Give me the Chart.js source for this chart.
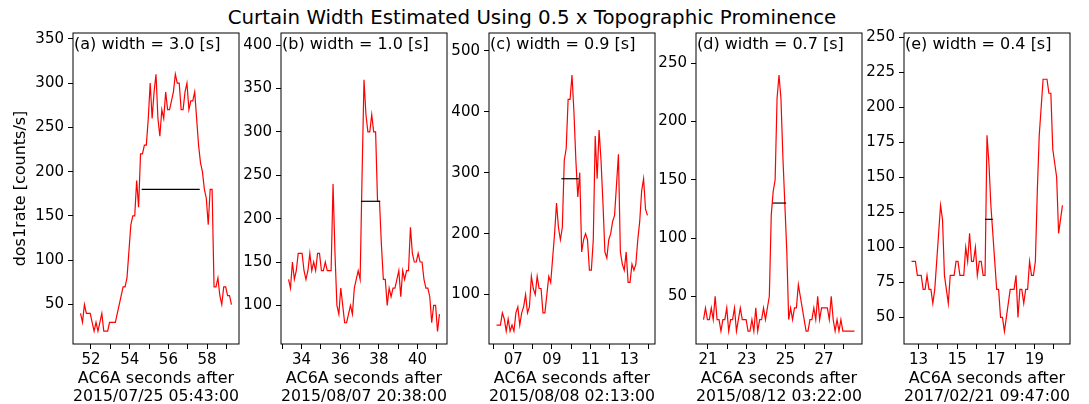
<!DOCTYPE html>
<html>
<head>
<meta charset="utf-8">
<script src="https://cdn.jsdelivr.net/npm/chart.js@4.4.1/dist/chart.umd.min.js"></script>
<style>
  html, body { margin: 0; padding: 0; background: #fff; }
  body { position: relative; width: 1089px; height: 404px; overflow: hidden; font-family: "DejaVu Sans", sans-serif; }
  #title { position: absolute; top: 8px; left: 532px; transform: translateX(-50%); font-size: 19.8px; line-height: 1; white-space: nowrap; color: #000; }
  canvas { position: absolute; }
</style>
</head>
<body>
<div id="title">Curtain Width Estimated Using 0.5 x Topographic Prominence</div>
<script>
// dos1rate traces, one sample every 0.1 s, starting at startTimes[k] seconds
const panelTags = ['(a)', '(b)', '(c)', '(d)', '(e)'];
const curtainWidths = [3.0, 1.0, 0.9, 0.7, 0.4];      // [s]
const widthLevels = [180, 220, 290, 130, 120];        // counts/s at half prominence
const widthCenters = [56.12, 37.57, 9.94, 24.69, 16.64];
const startTimes = [51.46, 33.33, 6.14, 20.77, 12.64];
const sampleStep = 0.1;
const yStep = [50, 50, 100, 50, 25];
const oddSecondLabels = [false, false, true, true, true];
const timeLabels = ['2015/07/25 05:43:00', '2015/08/07 20:38:00', '2015/08/08 02:13:00',
                    '2015/08/12 03:22:00', '2017/02/21 09:47:00'];

const rateA = [40, 30, 50, 40, 40, 40, 30, 20, 30, 20,
               30, 40, 20, 20, 20, 30, 30, 30, 30, 40,
               50, 60, 70, 70, 80, 110, 140, 150, 150, 190,
               160, 220, 220, 230, 230, 260, 300, 260, 290, 310,
               260, 240, 270, 260, 290, 270, 270, 280, 290, 310,
               300, 300, 270, 270, 290, 300, 270, 280, 280, 290,
               260, 230, 210, 200, 180, 170, 140, 180, 180, 70,
               70, 80, 60, 50, 70, 70, 60, 60, 50];
const rateB = [130, 120, 150, 130, 140, 160, 160, 160, 140, 130,
               140, 160, 140, 150, 140, 160, 160, 140, 140, 150,
               140, 140, 140, 240, 160, 100, 90, 120, 100, 80,
               80, 90, 100, 90, 120, 130, 140, 130, 250, 360,
               320, 300, 300, 320, 300, 300, 220, 220, 170, 130,
               130, 100, 120, 110, 120, 120, 130, 140, 110, 140,
               130, 140, 140, 190, 160, 150, 150, 160, 150, 150,
               130, 120, 120, 110, 80, 100, 100, 70, 90];
const rateC = [50, 50, 50, 70, 60, 40, 60, 40, 50, 40,
               70, 80, 50, 70, 80, 100, 70, 80, 130, 110,
               100, 130, 110, 110, 70, 70, 100, 130, 120, 160,
               200, 250, 210, 190, 210, 320, 340, 420, 420, 460,
               400, 320, 260, 300, 170, 190, 200, 190, 140, 140,
               190, 360, 290, 370, 320, 250, 170, 160, 190, 200,
               220, 230, 280, 330, 170, 150, 140, 170, 120, 120,
               150, 140, 150, 190, 220, 270, 290, 240, 230];
const rateD = [30, 40, 30, 30, 40, 30, 50, 30, 30, 20,
               30, 30, 40, 20, 30, 30, 40, 20, 30, 40,
               30, 30, 30, 20, 20, 30, 20, 40, 20, 30,
               30, 40, 30, 40, 50, 120, 140, 150, 220, 240,
               220, 170, 130, 90, 30, 40, 30, 40, 40, 60,
               50, 40, 30, 20, 20, 30, 30, 40, 30, 50,
               30, 40, 40, 40, 40, 30, 50, 30, 20, 30,
               20, 30, 20, 20, 20, 20, 20, 20, 20];
const rateE = [90, 90, 90, 80, 80, 80, 70, 70, 80, 70,
               70, 60, 70, 90, 110, 130, 120, 80, 70, 60,
               80, 80, 80, 90, 90, 80, 80, 80, 100, 90,
               110, 90, 90, 100, 80, 90, 90, 80, 80, 180,
               160, 130, 110, 90, 70, 70, 50, 50, 40, 50,
               60, 70, 70, 70, 80, 50, 70, 70, 60, 70,
               70, 90, 80, 80, 90, 140, 180, 200, 220, 220,
               220, 210, 210, 170, 160, 150, 110, 120, 130];
const rates = [rateA, rateB, rateC, rateD, rateE];

// page layout
const PLOT_LEFTS = [73, 281, 489, 696, 904];
const PLOT_W = 166;
const PLOT_TOP = 31, PLOT_BOTTOM = 344;
const CANVAS_TOP = 20, CANVAS_BOTTOM = 410;
const RIGHT_PAD = 16;

Chart.defaults.font.family = '"DejaVu Sans", sans-serif';
Chart.defaults.color = '#000';

// full box around the axes plus the "(x) width = ..." note
const panelFrame = {
    id: 'panelFrame',
    afterDatasetsDraw(chart, args, opts) {
        const { ctx, chartArea: a } = chart;
        ctx.save();
        ctx.strokeStyle = '#000';
        ctx.lineWidth = 1;
        ctx.strokeRect(a.left, a.top, a.right - a.left, a.bottom - a.top);
        ctx.font = '16px "DejaVu Sans"';
        ctx.fillStyle = '#000';
        ctx.textBaseline = 'alphabetic';
        ctx.fillText(opts.text, a.left + 1, a.top + 16);
        ctx.restore();
    }
};

// ticks on every multiple of step inside the axis range
function stepTicks(step) {
    return scale => {
        const ticks = [];
        for (let v = Math.ceil(scale.min / step - 1e-9) * step; v <= scale.max + 1e-9; v += step) {
            ticks.push({ value: Math.round(v * 1000) / 1000 });
        }
        scale.ticks = ticks;
    };
}

function drawPanel(k) {
    const vals = rates[k];
    const canvasLeft = k === 0 ? 0 : PLOT_LEFTS[k] - 60;
    const yw = PLOT_LEFTS[k] - canvasLeft;
    const width = yw + PLOT_W + RIGHT_PAD;
    const height = CANVAS_BOTTOM - CANVAS_TOP;

    const canvas = document.createElement('canvas');
    canvas.width = width;
    canvas.height = height;
    canvas.style.left = canvasLeft + 'px';
    canvas.style.top = CANVAS_TOP + 'px';
    canvas.style.width = width + 'px';
    canvas.style.height = height + 'px';
    document.body.appendChild(canvas);

    const points = vals.map((v, i) => ({ x: startTimes[k] + i * sampleStep, y: v }));
    const span = (vals.length - 1) * sampleStep;
    const lo = Math.min(...vals), hi = Math.max(...vals);
    const w = curtainWidths[k];

    new Chart(canvas.getContext('2d'), {
        type: 'line',
        data: {
            datasets: [
                {
                    data: [{ x: widthCenters[k] - w / 2, y: widthLevels[k] },
                           { x: widthCenters[k] + w / 2, y: widthLevels[k] }],
                    borderColor: '#000',
                    borderWidth: 1.2,
                    pointRadius: 0
                },
                {
                    data: points,
                    borderColor: '#ff0000',
                    borderWidth: 1.2,
                    pointRadius: 0,
                    tension: 0
                }
            ]
        },
        options: {
            responsive: false,
            animation: false,
            events: [],
            layout: { padding: { top: PLOT_TOP - CANVAS_TOP, right: RIGHT_PAD, bottom: 0, left: 0 } },
            plugins: {
                legend: { display: false },
                tooltip: { enabled: false },
                panelFrame: { text: `${panelTags[k]} width = ${w.toFixed(1)} [s]` }
            },
            scales: {
                x: {
                    type: 'linear',
                    min: startTimes[k] - 0.05 * span,
                    max: startTimes[k] + 1.05 * span,
                    afterBuildTicks: stepTicks(1),
                    afterFit: s => { s.height = CANVAS_BOTTOM - PLOT_BOTTOM; },
                    border: { display: false },
                    grid: { drawOnChartArea: false, drawTicks: true, tickLength: 5, color: '#000' },
                    ticks: {
                        autoSkip: false,
                        maxRotation: 0,
                        padding: 2,
                        font: { size: 15 },
                        callback: v => {
                            const s = Math.round(v);
                            if ((s % 2 === 1) !== oddSecondLabels[k]) return '';
                            return String(s % 60).padStart(2, '0');
                        }
                    },
                    title: {
                        display: true,
                        text: ['AC6A seconds after', timeLabels[k]],
                        font: { size: 16, lineHeight: 1.15 },
                        padding: { top: 0, bottom: 4 }
                    }
                },
                y: {
                    min: lo - 0.05 * (hi - lo),
                    max: 1.15 * hi,
                    afterBuildTicks: stepTicks(yStep[k]),
                    afterFit: s => { s.width = yw; },
                    border: { display: false },
                    grid: { drawOnChartArea: false, drawTicks: true, tickLength: 5, color: '#000' },
                    ticks: { autoSkip: false, padding: 4, font: { size: 15 } },
                    title: {
                        display: k === 0,
                        text: 'dos1rate [counts/s]',
                        font: { size: 16, lineHeight: 1.15 },
                        padding: { top: 12, bottom: 0 }
                    }
                }
            }
        },
        plugins: [panelFrame]
    });
}

for (let k = 0; k < rates.length; k++) drawPanel(k);
</script>
</body>
</html>
